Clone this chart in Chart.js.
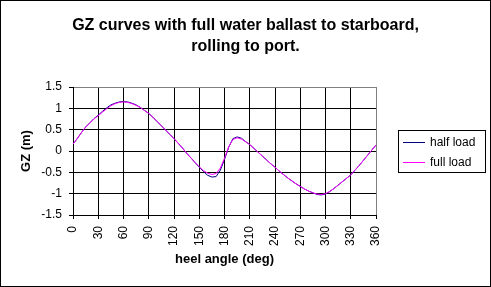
<!DOCTYPE html>
<html>
<head>
<meta charset="utf-8">
<script src="https://cdn.jsdelivr.net/npm/chart.js@4/dist/chart.umd.min.js"></script>
<style>
  body { margin: 0; background: #fff; }
  canvas { display: block; }
</style>
</head>
<body>
<canvas id="canvas" width="491" height="287"></canvas>
<script>
// heel angle, deg
var angles = [0, 5, 10, 15, 20, 25, 30, 35, 40, 45, 50, 55, 60, 65, 70, 75, 80, 85, 90,
  95, 100, 105, 110, 115, 120, 125, 130, 135, 140, 145, 150, 155, 160, 165, 170, 175, 180,
  185, 190, 195, 200, 205, 210, 215, 220, 225, 230, 235, 240, 245, 250, 255, 260, 265, 270,
  275, 280, 285, 290, 295, 300, 305, 310, 315, 320, 325, 330, 335, 340, 345, 350, 355, 360];

// GZ (m)
var halfLoad = [0.16, 0.29, 0.43, 0.56, 0.66, 0.76, 0.84, 0.93, 1.01, 1.08, 1.12, 1.15, 1.16, 1.15, 1.12, 1.08, 1.02, 0.95, 0.88,
  0.79, 0.69, 0.59, 0.49, 0.39, 0.29, 0.18, 0.07, -0.05, -0.16, -0.27, -0.38, -0.48, -0.57, -0.61, -0.60, -0.45, -0.20,
  0.09, 0.29, 0.33, 0.30, 0.22, 0.15, 0.06, -0.03, -0.12, -0.21, -0.30, -0.38, -0.47, -0.55, -0.63, -0.70, -0.77, -0.83,
  -0.89, -0.94, -0.98, -1.02, -1.03, -1.01, -0.95, -0.88, -0.80, -0.72, -0.64, -0.56, -0.45, -0.34, -0.22, -0.10, 0.02, 0.14];

var fullLoad = [0.16, 0.29, 0.43, 0.56, 0.66, 0.75, 0.83, 0.91, 0.99, 1.06, 1.11, 1.14, 1.15, 1.14, 1.11, 1.07, 1.02, 0.95, 0.88,
  0.79, 0.69, 0.59, 0.49, 0.39, 0.29, 0.18, 0.07, -0.05, -0.16, -0.27, -0.37, -0.46, -0.52, -0.55, -0.53, -0.40, -0.17,
  0.10, 0.27, 0.31, 0.28, 0.22, 0.15, 0.06, -0.03, -0.12, -0.21, -0.30, -0.38, -0.47, -0.55, -0.63, -0.70, -0.77, -0.83,
  -0.89, -0.94, -0.98, -1.01, -1.02, -1.00, -0.95, -0.88, -0.80, -0.72, -0.64, -0.56, -0.45, -0.34, -0.22, -0.10, 0.02, 0.14];

var seriesNames = ["half load", "full load"];
var seriesColors = ["#000080", "#ff00ff"];

function toPoints(values) {
  return values.map(function (v, i) { return { x: angles[i], y: v }; });
}

// frame round the whole picture and the boxed legend on the right
var boxesPlugin = {
  id: "boxes",
  afterDraw: function (chart) {
    var ctx = chart.ctx;
    var area = chart.chartArea;
    ctx.save();
    ctx.strokeStyle = "#000";
    ctx.lineWidth = 1;
    ctx.strokeRect(0.5, 0.5, chart.width - 1, chart.height - 1);

    var left = Math.round(area.right) + 22;
    var top = Math.round((area.top + area.bottom) / 2) - 21;
    ctx.strokeRect(left + 0.5, top + 0.5, 87, 42);

    ctx.font = "12px Arial, 'Liberation Sans', sans-serif";
    ctx.textBaseline = "middle";
    ctx.fillStyle = "#000";
    chart.data.datasets.forEach(function (ds, i) {
      var y = top + 12 + i * 20 + 0.5;
      ctx.strokeStyle = ds.borderColor;
      ctx.beginPath();
      ctx.moveTo(left + 5, y);
      ctx.lineTo(left + 27, y);
      ctx.stroke();
      ctx.fillText(ds.label, left + 32, y);
    });
    ctx.restore();
  }
};

var ctx = document.getElementById("canvas").getContext("2d");
var myChart = new Chart(ctx, {
  type: "line",
  data: {
    datasets: [
      { label: seriesNames[0], data: toPoints(halfLoad), borderColor: seriesColors[0], order: 1 },
      { label: seriesNames[1], data: toPoints(fullLoad), borderColor: seriesColors[1], order: 0 }
    ]
  },
  options: {
    responsive: false,
    animation: false,
    devicePixelRatio: 1,
    elements: {
      point: { radius: 0 },
      line: { borderWidth: 1, tension: 0, fill: false }
    },
    layout: { padding: 0 },
    plugins: {
      legend: { display: false },
      tooltip: { enabled: false },
      title: {
        display: true,
        text: ["GZ curves with full water ballast to starboard,", "rolling to port."],
        color: "#000",
        font: { family: "Arial, 'Liberation Sans', sans-serif", size: 16, weight: "bold", lineHeight: 1.3125 },
        padding: { top: 15, bottom: 30 }
      }
    },
    scales: {
      x: {
        type: "linear",
        min: 0,
        max: 360,
        ticks: {
          stepSize: 30,
          minRotation: 90,
          maxRotation: 90,
          padding: 7,
          color: "#000",
          font: { family: "Arial, 'Liberation Sans', sans-serif", size: 12 },
          callback: function (v) { return String(v); }
        },
        grid: {
          color: function (c) { return c.tick && c.tick.value === 360 ? "#808080" : "#000"; },
          tickColor: "#000",
          tickLength: 4
        },
        border: { color: "#000" },
        title: {
          display: true,
          text: "heel angle (deg)",
          color: "#000",
          font: { family: "Arial, 'Liberation Sans', sans-serif", size: 13, weight: "bold", lineHeight: 1.2 },
          padding: { top: 0, bottom: 20 }
        },
        afterFit: function (scale) { scale.height = 72; }
      },
      y: {
        min: -1.5,
        max: 1.5,
        ticks: {
          stepSize: 0.5,
          padding: 7,
          color: "#000",
          font: { family: "Arial, 'Liberation Sans', sans-serif", size: 12 },
          callback: function (v) { return String(v); }
        },
        grid: {
          color: function (c) { return c.tick && c.tick.value === 1.5 ? "#808080" : "#000"; },
          tickColor: "#000",
          tickLength: 4
        },
        border: { color: "#000" },
        title: {
          display: true,
          text: "GZ (m)",
          color: "#000",
          font: { family: "Arial, 'Liberation Sans', sans-serif", size: 13, weight: "bold", lineHeight: 1.2 },
          padding: { top: 19, bottom: 0 }
        },
        afterFit: function (scale) { scale.width = 73; }
      },
      // empty axis only to keep room for the legend on the right
      legendRoom: {
        axis: "y",
        position: "right",
        ticks: { display: false },
        grid: { display: false, drawTicks: false },
        border: { display: false },
        afterFit: function (scale) { scale.width = 115; }
      }
    }
  },
  plugins: [boxesPlugin]
});
</script>
</body>
</html>
